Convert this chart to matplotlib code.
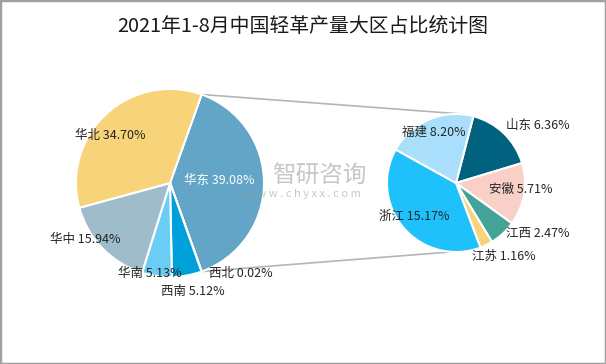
import matplotlib
matplotlib.use("Agg")
import matplotlib.pyplot as plt
from matplotlib.patches import Rectangle
import numpy as np

plt.rcParams['font.family'] = ['Noto Sans CJK SC', 'DejaVu Sans']

title = "2021年1-8月中国轻革产量大区占比统计图"

main_labels = ["华东", "西北", "西南", "华南", "华中", "华北"]
main_values = [39.08, 0.02, 5.12, 5.13, 15.94, 34.70]
main_colors = ["#62a5c6", "#0a8fc4", "#00a1da", "#6bcdf4", "#9fbccb", "#f7d37a"]

sub_labels = ["山东", "安徽", "江西", "江苏", "浙江", "福建"]
sub_values = [6.36, 5.71, 2.47, 1.16, 15.17, 8.20]
sub_colors = ["#00627f", "#f8d0c8", "#43a399", "#f7d37a", "#1fc1fb", "#a9dffa"]

W, H = 606, 364
fig = plt.figure(figsize=(W / 100, H / 100), dpi=100)
ax = fig.add_axes([0, 0, 1, 1])

# main pie
c1 = (170, H - 183)
r1 = 94
first_angle = main_values[0] / sum(main_values) * 360
start1 = first_angle / 2
wedges1, _ = ax.pie(main_values, colors=main_colors, radius=r1, center=c1,
                    startangle=start1, counterclock=False,
                    wedgeprops=dict(edgecolor="white", linewidth=1.5))

# sub pie
c2 = (456, H - 183)
r2 = 69
wedges2, _ = ax.pie(sub_values, colors=sub_colors, radius=r2, center=c2,
                    startangle=75.4, counterclock=False,
                    wedgeprops=dict(edgecolor="white", linewidth=1.5))

ax.set_xlim(0, W)
ax.set_ylim(0, H)
ax.set_aspect("equal")
ax.axis("off")

# connecting lines from 华东 wedge edges to sub pie top/bottom
w = wedges1[0]
a1 = np.deg2rad(w.theta1)
a2 = np.deg2rad(w.theta2)
p_a = (c1[0] + r1 * np.cos(a2), c1[1] + r1 * np.sin(a2))
p_b = (c1[0] + r1 * np.cos(a1), c1[1] + r1 * np.sin(a1))
top_pt, bot_pt = (p_a, p_b) if p_a[1] > p_b[1] else (p_b, p_a)
ax.plot([top_pt[0], c2[0] + 6], [top_pt[1], c2[1] + r2], color="#b5b5b5", lw=1.2, zorder=0)
ax.plot([bot_pt[0], c2[0] - 6], [bot_pt[1], c2[1] - r2], color="#b5b5b5", lw=1.2, zorder=0)

# labels
main_pos = [(219, 180), (241, 274), (193, 291), (150, 273), (85, 240), (110, 135)]
sub_pos = [(538, 125), (521, 189), (538, 234), (504, 256), (414, 216), (434, 132)]
fs = 9
for name, v, (x, y) in zip(main_labels, main_values, main_pos):
    col = "white" if name == "华东" else "#262626"
    ax.text(x, H - y, f"{name} {v:.2f}%", ha="center", va="center",
            fontsize=fs, color=col, zorder=5)
for name, v, (x, y) in zip(sub_labels, sub_values, sub_pos):
    ax.text(x, H - y, f"{name} {v:.2f}%", ha="center", va="center",
            fontsize=fs, color="#262626", zorder=5)

# watermark
ax.text(319, H - 176, "智研咨询", ha="center", va="center", fontsize=17,
        color="#9a9a9a", alpha=0.55, zorder=4)
ax.text(303, H - 194, "w w w . c h y x x . c o m", ha="center", va="center",
        fontsize=8, color="#9a9a9a", alpha=0.55, zorder=4)

# title
fig.text(0.5, 1 - 26 / H, title, ha="center", va="center", fontsize=14.3,
         color="#1a1a1a")

# border
fig.patches.append(Rectangle((0, 0), 1, 1, transform=fig.transFigure, fill=False,
                             edgecolor="#a0a0a0", linewidth=2.5))

fig.savefig("out.png", dpi=100)
